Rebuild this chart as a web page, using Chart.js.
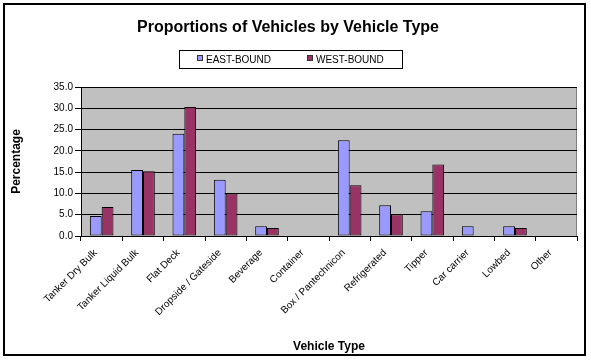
<!DOCTYPE html>
<html>
<head>
<meta charset="utf-8">
<script src="https://cdn.jsdelivr.net/npm/chart.js@4.4.1/dist/chart.umd.min.js"></script>
<style>
html,body{margin:0;padding:0;background:#fff;}
canvas{display:block;}
</style>
</head>
<body>
<canvas id="c" width="591" height="361"></canvas>
<script>
const categories = ["Tanker Dry Bulk","Tanker Liquid Bulk","Flat Deck","Dropside / Gateside","Beverage","Container","Box / Pantechnicon","Refrigerated","Tipper","Car carrier","Lowbed","Other"];
const eastBound = [4.7, 15.5, 24.0, 13.2, 2.3, 0, 22.5, 7.2, 5.8, 2.3, 2.3, 0];
const westBound = [6.8, 15.2, 30.3, 10.0, 1.9, 0, 11.9, 5.1, 16.8, 0, 1.9, 0];
const yTicks = [0, 5, 10, 15, 20, 25, 30, 35];
const chartTitle = "Proportions of Vehicles by Vehicle Type";
const seriesNames = ["EAST-BOUND", "WEST-BOUND"];

const FONT = "Arial, 'Liberation Sans', sans-serif";

const deco = {
  id: 'deco',
  beforeDraw(chart) {
    const ctx = chart.ctx, a = chart.chartArea;
    ctx.save();
    ctx.fillStyle = '#fff';
    ctx.fillRect(0, 0, chart.width, chart.height);
    ctx.fillStyle = '#C0C0C0';
    ctx.fillRect(a.left, a.top, a.right - a.left, a.bottom - a.top);
    ctx.strokeStyle = '#808080';
    ctx.lineWidth = 1;
    ctx.beginPath();
    ctx.moveTo(a.left, a.top + 0.5);
    ctx.lineTo(a.right - 0.5, a.top + 0.5);
    ctx.lineTo(a.right - 0.5, a.bottom);
    ctx.stroke();
    ctx.restore();
  },
  afterDraw(chart) {
    const ctx = chart.ctx;
    ctx.save();
    // outer border
    ctx.strokeStyle = '#000';
    ctx.lineWidth = 2;
    ctx.strokeRect(4, 4, 581, 351);
    // title
    ctx.fillStyle = '#000';
    ctx.font = "bold 16px " + FONT;
    ctx.textAlign = 'center';
    ctx.textBaseline = 'alphabetic';
    ctx.fillText(chartTitle, 288, 32);
    // legend box
    ctx.lineWidth = 1;
    ctx.strokeRect(179.5, 50.5, 223, 18);
    ctx.font = "10px " + FONT;
    ctx.textAlign = 'left';
    ctx.textBaseline = 'middle';
    const xs = [197, 307];
    chart.data.datasets.forEach((ds, i) => {
      ctx.fillStyle = ds.backgroundColor;
      ctx.fillRect(xs[i], 55, 6, 6);
      ctx.strokeStyle = '#333';
      ctx.strokeRect(xs[i] + 0.5, 55.5, 5, 5);
      ctx.fillStyle = '#000';
      ctx.fillText(ds.label, xs[i] + 9, 60);
    });
    ctx.restore();
  }
};

new Chart(document.getElementById('c'), {
  type: 'bar',
  data: {
    labels: categories,
    datasets: [
      { label: seriesNames[0], data: eastBound, backgroundColor: '#9999FF', borderColor: '#000', borderWidth: 1, borderSkipped: false },
      { label: seriesNames[1], data: westBound, backgroundColor: '#993366', borderColor: '#000', borderWidth: 1, borderSkipped: false }
    ]
  },
  options: {
    responsive: false,
    animation: false,
    devicePixelRatio: 1,
    layout: { padding: { top: 87, left: 0, right: 14, bottom: 0 } },
    datasets: { bar: { categoryPercentage: 2 / 3.5, barPercentage: 1 } },
    plugins: {
      legend: { display: false },
      title: { display: false },
      tooltip: { enabled: false }
    },
    scales: {
      x: {
        offset: true,
        grid: { offset: true, drawOnChartArea: false, drawTicks: true, tickLength: 5, color: '#000' },
        border: { display: true, color: '#000', width: 1 },
        ticks: { autoSkip: false, minRotation: 45, maxRotation: 45, color: '#000', font: { family: FONT, size: 10 }, padding: 6, labelOffset: -6 },
        title: { display: true, text: 'Vehicle Type', color: '#000', font: { family: FONT, size: 12, weight: 'bold' }, padding: { top: 4, bottom: 7 } },
        afterFit(s) { s.height = 361 - 236; }
      },
      y: {
        min: 0, max: 35,
        afterBuildTicks(s) { s.ticks = yTicks.map(v => ({ value: v })); },
        grid: { color: '#000', lineWidth: 1, drawTicks: true, tickLength: 6 },
        border: { display: true, color: '#000', width: 1 },
        ticks: { color: '#000', font: { family: FONT, size: 10 }, padding: 2, callback: v => Number(v).toFixed(1) },
        title: { display: true, text: 'Percentage', color: '#000', font: { family: FONT, size: 12, weight: 'bold' }, padding: { top: 9, bottom: 4 } },
        afterFit(s) { s.width = 81; }
      }
    }
  },
  plugins: [deco]
});
</script>
</body>
</html>
